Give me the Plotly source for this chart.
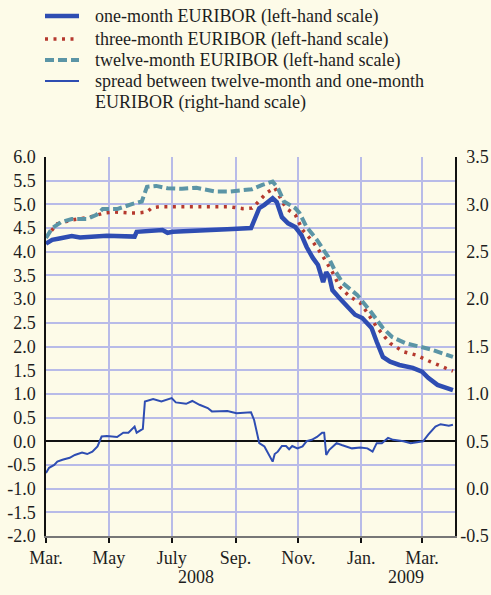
import plotly.graph_objects as go

# ---------------- data ----------------
one_dates = ["2008-03-01","2008-03-07","2008-03-14","2008-03-26","2008-04-03","2008-04-29","2008-05-26","2008-05-28",
             "2008-06-22","2008-06-27","2008-07-02","2008-08-26","2008-08-29","2008-09-16","2008-09-24","2008-09-29",
             "2008-10-07","2008-10-11","2008-10-16","2008-10-22","2008-10-29","2008-11-04","2008-11-09","2008-11-15",
             "2008-11-20","2008-11-25","2008-11-28","2008-12-01","2008-12-04","2008-12-11","2008-12-18","2008-12-26",
             "2009-01-02","2009-01-11","2009-01-16","2009-01-22","2009-01-29","2009-02-07","2009-02-20","2009-03-01",
             "2009-03-07","2009-03-16","2009-03-31"]
one_vals = [4.17,4.25,4.28,4.33,4.30,4.34,4.32,4.42,
            4.46,4.40,4.42,4.46,4.48,4.50,4.92,4.99,
            5.13,5.05,4.73,4.60,4.52,4.35,4.10,3.87,
            3.72,3.36,3.57,3.47,3.19,3.02,2.84,2.67,
            2.60,2.39,2.10,1.78,1.68,1.61,1.55,1.47,
            1.34,1.19,1.08]

three_dates = ["2008-03-01","2008-03-07","2008-03-12","2008-03-26","2008-04-12","2008-04-27","2008-05-07","2008-05-22",
               "2008-05-30","2008-06-07","2008-06-12","2008-06-19","2008-08-26","2008-09-08","2008-09-17","2008-09-22",
               "2008-10-01","2008-10-09","2008-10-13","2008-10-20","2008-10-29","2008-11-05","2008-11-15","2008-11-24",
               "2008-12-04","2008-12-11","2008-12-21","2008-12-31","2009-01-07","2009-01-16","2009-01-24","2009-01-29",
               "2009-02-11","2009-02-23","2009-03-09","2009-03-21","2009-03-31"]
three_vals = [4.31,4.46,4.59,4.67,4.73,4.82,4.84,4.82,
              4.82,4.84,4.93,4.95,4.95,4.91,4.92,5.03,
              5.24,5.35,5.20,4.92,4.78,4.46,4.21,3.93,
              3.57,3.26,3.05,2.92,2.71,2.41,2.20,2.07,
              1.89,1.82,1.68,1.57,1.48]

twelve_dates = ["2008-03-01","2008-03-07","2008-03-16","2008-03-26","2008-04-10","2008-04-19","2008-04-25","2008-05-09",
                "2008-05-24","2008-06-02","2008-06-07","2008-06-16","2008-06-27","2008-07-11","2008-07-25","2008-08-13",
                "2008-08-26","2008-09-05","2008-09-17","2008-09-27","2008-10-07","2008-10-12","2008-10-18","2008-10-29",
                "2008-11-02","2008-11-09","2008-11-19","2008-11-30","2008-12-06","2008-12-14","2008-12-28","2009-01-09",
                "2009-01-22","2009-01-31","2009-02-13","2009-02-28","2009-03-11","2009-03-31"]
twelve_vals = [4.29,4.50,4.63,4.69,4.69,4.78,4.90,4.90,
               5.01,5.06,5.37,5.39,5.34,5.33,5.35,5.27,
               5.27,5.30,5.32,5.41,5.48,5.35,5.06,4.92,
               4.82,4.52,4.25,3.89,3.62,3.34,3.09,2.77,
               2.39,2.20,2.07,1.99,1.93,1.78]

spread_dates = ["2008-03-01","2008-03-04","2008-03-09","2008-03-12","2008-03-17","2008-03-24","2008-03-29","2008-04-05",
                "2008-04-10","2008-04-15","2008-04-20","2008-04-24","2008-04-29","2008-05-09","2008-05-15","2008-05-20",
                "2008-05-26","2008-05-28","2008-06-03","2008-06-05","2008-06-13","2008-06-21","2008-07-01","2008-07-05",
                "2008-07-15","2008-07-21","2008-07-28","2008-08-05","2008-08-09","2008-08-24","2008-09-02","2008-09-16",
                "2008-09-19","2008-09-24","2008-09-29","2008-10-04","2008-10-07","2008-10-09","2008-10-12","2008-10-16",
                "2008-10-20","2008-10-23","2008-10-26","2008-10-31","2008-11-05","2008-11-09","2008-11-14","2008-11-19",
                "2008-11-24","2008-11-26","2008-11-28","2008-12-01","2008-12-08","2008-12-13","2008-12-18","2008-12-23",
                "2008-12-31","2009-01-07","2009-01-12","2009-01-16","2009-01-21","2009-01-27","2009-02-01","2009-02-11",
                "2009-02-18","2009-03-02","2009-03-07","2009-03-14","2009-03-19","2009-03-27","2009-03-31"]
spread_vals = [0.165,0.22,0.25,0.285,0.305,0.325,0.355,0.38,
               0.365,0.39,0.445,0.55,0.555,0.545,0.59,0.59,
               0.655,0.59,0.63,0.92,0.945,0.92,0.955,0.91,
               0.895,0.925,0.885,0.85,0.815,0.82,0.795,0.805,
               0.725,0.48,0.445,0.34,0.285,0.365,0.39,0.45,
               0.45,0.415,0.45,0.425,0.445,0.5,0.515,0.545,
               0.59,0.59,0.355,0.41,0.48,0.46,0.445,0.425,
               0.435,0.425,0.39,0.48,0.48,0.535,0.515,0.5,
               0.48,0.5,0.57,0.655,0.68,0.665,0.675]

tick_dates = ["2008-03-01","2008-05-01","2008-07-01","2008-09-01","2008-11-01","2009-01-01","2009-03-01"]
tick_labels = ["Mar.","May","July","Sep.","Nov.","Jan.","Mar."]
left_ticks = [-2.0, -1.5, -1.0, -0.5, 0.0, 0.5, 1.0, 1.5, 2.0, 2.5, 3.0, 3.5, 4.0, 4.5, 5.0, 5.5, 6.0]
right_ticks = [-0.5, 0.0, 0.5, 1.0, 1.5, 2.0, 2.5, 3.0, 3.5]
year_labels = ["2008", "2009"]
year_positions = ["2008-07-25", "2009-02-13"]

series_names = ["one-month EURIBOR (left-hand scale)",
                "three-month EURIBOR (left-hand scale)",
                "twelve-month EURIBOR (left-hand scale)",
                "spread between twelve-month and one-month",
                "EURIBOR (right-hand scale)"]

# ---------------- style ----------------
BG = "#fdfbe8"
BLUE = "#2e4db2"
RED = "#b5392e"
TEAL = "#5b95a6"
GRID = "#b8bbe8"
FONT = "Liberation Serif, Times New Roman, serif"
TXT = "#1e1e1e"

line_styles = [dict(color=BLUE, width=4.5),
               dict(color=RED, width=3.5, dash="3px,5.5px"),
               dict(color=TEAL, width=4, dash="9px,4px"),
               dict(color=BLUE, width=2)]

fig = go.Figure()
fig.add_trace(go.Scatter(x=one_dates, y=one_vals, mode="lines", name=series_names[0], line=line_styles[0]))
fig.add_trace(go.Scatter(x=three_dates, y=three_vals, mode="lines", name=series_names[1], line=line_styles[1]))
fig.add_trace(go.Scatter(x=twelve_dates, y=twelve_vals, mode="lines", name=series_names[2], line=line_styles[2]))
fig.add_trace(go.Scatter(x=spread_dates, y=spread_vals, mode="lines", yaxis="y2",
                         name=series_names[3] + " " + series_names[4], line=line_styles[3]))

# ---- page geometry ----
W, H = 491, 595
L, R, T, B = 46, 36, 157, 59
PW, PH = W - L - R, H - T - B
def px_x(p):  # pixel -> paper x
    return (p - L) / PW
def px_y(p):  # pixel -> paper y
    return (H - B - p) / PH

row_y = [16, 39, 60, 81]
for ly, st in zip(row_y, line_styles):
    fig.add_shape(type="line", xref="paper", yref="paper", x0=px_x(45), x1=px_x(79),
                  y0=px_y(ly), y1=px_y(ly), line=st)
text_y = [16, 39, 60, 81, 102]
for ty, name in zip(text_y, series_names):
    fig.add_annotation(x=px_x(93), y=px_y(ty), xref="paper", yref="paper", text=name, showarrow=False,
                       xanchor="left", yanchor="middle", font=dict(family=FONT, size=18, color=TXT))

for txt, pos in zip(year_labels, year_positions):
    fig.add_annotation(x=pos, y=px_y(577), xref="x", yref="paper", text=txt, showarrow=False,
                       yanchor="middle", font=dict(family=FONT, size=18, color=TXT))

# right-hand labels are right-aligned in the original: pad non-negative ones with a 1/3-em space
right_text = [f"{v:.1f}" if v < 0 else "\u2004" + f"{v:.1f}" for v in right_ticks]

fig.update_layout(
    width=W, height=H,
    margin=dict(l=L, r=R, t=T, b=B, autoexpand=False),
    paper_bgcolor=BG, plot_bgcolor=BG,
    font=dict(family=FONT, size=18, color=TXT),
    showlegend=False,
    hovermode=False,
    xaxis=dict(type="date", range=["2008-03-01", "2009-04-02"], tickvals=tick_dates, ticktext=tick_labels,
               showgrid=True, gridcolor=GRID, gridwidth=1.5, showline=True, linecolor="#777777", linewidth=1.5,
               ticks="outside", ticklen=5, tickcolor="#111111", tickwidth=1.5, zeroline=False, automargin=False),
    yaxis=dict(range=[-2, 6], tickvals=left_ticks, ticktext=[f"{v:.1f}" for v in left_ticks],
               showgrid=True, gridcolor=GRID, gridwidth=1.5,
               zeroline=True, zerolinecolor="#111111", zerolinewidth=1.5, showline=True, linecolor="#111111",
               linewidth=1.5, ticks="", ticklabelstandoff=5, automargin=False),
    yaxis2=dict(range=[-0.5, 3.5], tickvals=right_ticks, ticktext=right_text,
                overlaying="y", side="right",
                showgrid=False, zeroline=False, showline=True, linecolor="#111111", linewidth=1.5, ticks="",
                ticklabelstandoff=0, automargin=False),
)

fig.write_html("out.html", config={"displayModeBar": False},
               post_script="document.body.style.margin='0';document.body.style.overflow='hidden';"
                           "document.body.style.background='" + BG + "';")
